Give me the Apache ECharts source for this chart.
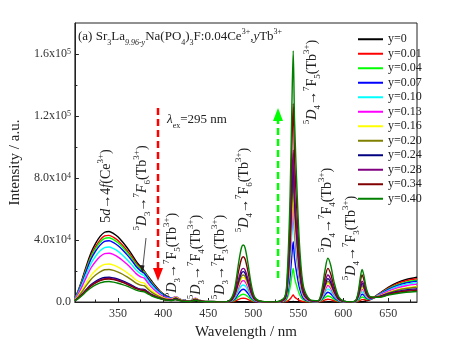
<!DOCTYPE html>
<html>
<head>
<meta charset="utf-8">
<script src="https://cdn.jsdelivr.net/npm/echarts@6/dist/echarts.min.js"></script>
<style>
  html, body { margin: 0; padding: 0; background: #fff; }
  #chart { width: 457px; height: 351px; }
</style>
</head>
<body>
<div id="chart"></div>
<script>
// emission wavelength (nm)
const wavelength = [302,305,310,315,320,325,330,335,340,345,350,355,360,365,370,375,379,383,387,392,397,403,409,414,418,423,430,436,440,447,455,465,474,479,484,487,489,491,494,498,502,510,525,535,538,541,543,544.5,546,549,552,556,563,572,576,580,583,586,590,595,601,609,614,617,619,621,623,626,630,640,650,660,670,682];

// intensity, in units of 1e3 a.u., one array per Tb3+ content
const y0 = [2.7,6.4,14.6,23.7,31.9,37.8,42.3,45.0,45.5,44.1, 41.9,38.7,35.0,30.9,26.4,22.8,20.0,16.8,13.7,10.0, 6.8,4.1,2.5,1.6,1.3,1.0,0.7,0.55,0.45,0.36, 0.27,0.18,0.14,0.12,0.12,0.13,0.13,0.13,0.12,0.1, 0.1,0.1,0.1,0.1,0.1,0.15,0.25,0.3,0.25,0.15, 0.1,0.1,0.1,0.1,0.1,0.1,0.12,0.12,0.1,0.1, 0.1,0.1,0.1,0.12,0.15,0.2,0.4,0.8,1.5,5.5, 9.5,12.5,14.5,16];
const y001 = [2.6,6.0,13.8,22.4,30.1,35.7,40.0,42.6,43.0,41.7, 39.6,36.6,33.1,29.2,24.9,21.7,19.5,16.2,13.0,9.5, 6.5,3.9,2.5,2.3,1.6,1.0,0.77,1.2,0.74,0.37, 0.3,0.17,0.2,0.5,1.7,2.3,2.4,2.3,1.7,0.7, 0.2,0.1,0.1,0.1,0.54,1.9,3.5,4.5,3.2,1.9, 0.9,0.27,0.1,0.1,0.45,1.35,1.8,1.5,0.8,0.22, 0.1,0.1,0.1,0.5,1.1,1.5,1.6,1.3,1.55,5.3, 8.9,11.8,13.7,15];
const y004 = [2.5,5.8,13.3,21.6,29.1,34.4,38.6,41.1,41.5,40.3, 38.2,35.3,32.0,28.2,24.1,21.1,19.3,15.9,12.6,9.1, 6.2,3.7,2.5,2.95,1.9,1.06,0.8,1.8,1.0,0.4, 0.35,0.17,0.27,1.0,3.5,4.75,5.0,4.75,3.5,1.5, 0.4,0.1,0.1,0.4,2.6,9.1,16.9,21.7,15.6,9.1, 4.3,1.3,0.2,0.12,1.0,2.9,3.9,3.3,1.75,0.47, 0.1,0.1,0.16,1.1,2.4,3.2,3.0,1.9,1.7,5.0, 8.4,11.0,12.75,14];
const y007 = [2.4,5.5,12.6,20.5,27.7,32.8,36.7,39.1,39.5,38.3, 36.3,33.6,30.4,26.9,22.9,20.1,18.6,15.2,12.0,8.7, 5.9,3.6,2.5,3.2,2.0,1.05,0.8,2.0,1.1,0.4, 0.35,0.16,0.37,1.6,5.7,7.8,8.2,7.8,5.7,2.5, 0.66,0.1,0.1,0.8,4.7,16.3,30.3,38.9,28.0,16.3, 7.8,2.3,0.4,0.2,1.6,4.7,6.3,5.4,2.8,0.76, 0.13,0.1,0.25,1.75,3.75,5.0,4.4,2.55,1.9,4.9, 8.1,10.6,12.3,13.5];
const y010 = [2.1,5.0,11.4,18.5,24.9,29.5,33.0,35.1,35.5,34.4, 32.7,30.2,27.3,24.1,20.6,18.2,17.0,13.8,10.8,7.8, 5.3,3.2,2.3,3.4,2.1,1.0,0.76,2.3,1.2,0.37, 0.35,0.14,0.44,2.2,7.7,10.45,11,10.45,7.7,3.3, 0.9,0.11,0.1,1.1,6.8,23.9,44.5,57,41,23.9, 11.4,3.4,0.6,0.26,2.1,6.4,8.5,7.2,3.8,1.0, 0.17,0.1,0.33,2.3,4.95,6.6,5.7,3.1,2.1,4.6, 7.55,9.9,11.4,12.5];
const y013 = [1.9,4.4,10.1,16.4,22.1,26.1,29.3,31.2,31.5,30.6, 29.0,26.8,24.3,21.4,18.3,16.2,15.4,12.4,9.6,6.9, 4.7,2.8,2.1,3.5,2.1,0.93,0.7,2.4,1.24,0.35, 0.35,0.13,0.5,2.8,9.7,13.1,13.8,13.1,9.7,4.1, 1.1,0.14,0.1,1.3,7.7,26.9,49.9,64,46.1,26.9, 12.8,3.8,0.64,0.32,2.65,7.95,10.6,9.0,4.8,1.27, 0.2,0.1,0.42,2.9,6.2,8.3,7.0,3.7,2.2,4.3, 7.0,9.1,10.5,11.5];
const y016 = [1.5,3.4,7.8,12.7,17.2,20.3,22.8,24.3,24.5,23.8, 22.5,20.8,18.9,16.7,14.2,12.7,12.2,9.8,7.5,5.4, 3.7,2.2,1.7,3.1,1.8,0.76,0.58,2.2,1.1,0.3, 0.3,0.1,0.55,3.2,11.1,15.1,15.9,15.1,11.1,4.8, 1.3,0.16,0.1,1.4,8.6,30.2,56.2,72,51.8,30.2, 14.4,4.3,0.7,0.37,3.05,9.15,12.2,10.4,5.5,1.46, 0.24,0.1,0.48,3.3,7.1,9.5,8.0,4.1,2.35,3.9, 6.2,8.0,9.15,10];
const y020 = [1.3,2.9,6.7,10.9,14.7,17.4,19.5,20.8,21.0,20.4, 19.3,17.9,16.2,14.3,12.2,10.9,10.5,8.4,6.4,4.6, 3.15,1.9,1.45,2.7,1.6,0.66,0.5,1.95,0.98,0.26, 0.25,0.08,0.58,3.5,12.2,16.5,17.4,16.5,12.2,5.2, 1.4,0.17,0.1,1.6,9.6,33.6,62.4,80,57.6,33.6, 16,4.8,0.8,0.4,3.35,10.05,13.4,11.4,6.0,1.6, 0.27,0.1,0.53,3.7,7.9,10.5,8.8,4.5,2.45,3.75, 5.9,7.6,8.7,9.5];
const y024 = [1.0,2.2,5.1,8.3,11.2,13.3,14.9,15.8,16.0,15.5, 14.7,13.6,12.3,10.9,9.3,8.3,8.1,6.5,4.9,3.5, 2.4,1.45,1.14,2.26,1.3,0.52,0.4,1.64,0.81,0.2, 0.2,0.06,0.64,3.9,13.7,18.6,19.6,18.6,13.7,5.9, 1.6,0.2,0.1,1.8,10.8,37.8,70.2,90,64.8,37.8, 18,5.4,0.9,0.45,3.8,11.3,15.1,12.8,6.8,1.8, 0.3,0.1,0.6,4.2,9.0,12,10.0,5.0,2.6,3.46, 5.35,6.8,7.8,8.5];
const y028 = [0.92,2.1,4.9,8.0,10.7,12.7,14.2,15.1,15.3,14.8, 14.1,13.0,11.8,10.4,8.9,7.95,7.7,6.2,4.7,3.4, 2.3,1.4,1.07,2.04,1.18,0.49,0.38,1.46,0.72,0.18, 0.18,0.06,0.7,4.3,15.2,20.6,21.7,20.6,15.2,6.5, 1.7,0.22,0.1,2.0,11.8,41.2,76.4,98,70.6,41.2, 19.6,5.9,1.0,0.52,4.35,13.05,17.4,14.8,7.8,2.1, 0.35,0.1,0.68,4.7,10.1,13.5,11.2,5.5,2.75,3.3, 5.1,6.4,7.35,8];
const y034 = [0.89,2.1,4.7,7.7,10.4,12.3,13.8,14.7,14.8,14.4, 13.6,12.6,11.4,10.1,8.6,7.7,7.4,5.9,4.5,3.3, 2.2,1.3,1.0,1.8,1.06,0.46,0.35,1.28,0.65,0.18, 0.16,0.06,0.92,5.8,20.4,27.7,29.2,27.7,20.4,8.8, 2.3,0.3,0.1,2.6,15.4,53.8,99.8,128,92.2,53.8, 25.6,7.7,1.3,0.65,5.4,16.3,21.7,18.4,9.8,2.6, 0.43,0.1,0.87,6.1,13.05,17.4,14.3,6.9,3.1,3.2, 4.8,6.1,6.9,7.5];
const y040 = [0.8,1.85,4.2,6.9,9.2,11.0,12.3,13.1,13.2,12.8, 12.1,11.2,10.2,9.0,7.7,6.84,6.6,5.3,4.0,2.9, 2.0,1.2,0.9,1.56,0.92,0.4,0.3,1.1,0.55,0.16, 0.14,0.05,1.14,7.4,25.8,35.0,36.8,35.0,25.8,11.0, 2.9,0.37,0.1,3.2,19.4,68,126.4,162,116.6,68, 32.4,9.7,1.6,0.85,7.05,21.2,28.2,24.0,12.7,3.4, 0.56,0.1,1.05,7.35,15.75,21,17.2,8.15,3.5,3.0, 4.4,5.5,6.3,6.8];

const spectra = [y0, y001, y004, y007, y010, y013, y016, y020, y024, y028, y034, y040];
const legendLabels = ['y=0', 'y=0.01', 'y=0.04', 'y=0.07', 'y=0.10', 'y=0.13', 'y=0.16', 'y=0.20', 'y=0.24', 'y=0.28', 'y=0.34', 'y=0.40'];
const lineColors = ['#000000', '#ff0000', '#00ff00', '#0000ff', '#00ffff', '#ff00ff', '#ffff00', '#808000', '#000080', '#800080', '#800000', '#008000'];

const xTicks = [350, 400, 450, 500, 550, 600, 650];
const xMinorTicks = [325, 375, 425, 475, 525, 575, 625, 675];
const yTicks = [0, 40000, 80000, 120000, 160000];
const yMinorTicks = [20000, 60000, 100000, 140000];
const yTickLabels = ['0.0', '4.0x10{sup|4}', '8.0x10{sup|4}', '1.2x10{sup|5}', '1.6x10{sup|5}'];

const FONT = '"Liberation Serif", "Times New Roman", serif';
const INK = '#222';

// rich styles for the chemistry annotations
function richStyles(size) {
  const small = Math.round(size * 0.64);
  return {
    i: {fontSize: size, fontFamily: FONT, fontStyle: 'italic', fill: INK, lineHeight: size + 6, verticalAlign: 'middle'},
    sub: {fontSize: small, fontFamily: FONT, fill: INK, lineHeight: small, verticalAlign: 'bottom'},
    subi: {fontSize: small, fontFamily: FONT, fontStyle: 'italic', fill: INK, lineHeight: small, verticalAlign: 'bottom'},
    sup: {fontSize: small, fontFamily: FONT, fill: INK, lineHeight: small, verticalAlign: 'top'}
  };
}

function label(text, x, y, size, rotate) {
  return {
    type: 'text', x: x, y: y, rotation: rotate ? Math.PI / 2 : 0, z: 100,
    style: {
      text: text, rich: richStyles(size),
      fontSize: size, fontFamily: FONT, fill: INK, lineHeight: size + 6,
      align: rotate ? 'center' : 'left', verticalAlign: 'middle'
    }
  };
}

function dashedArrow(x, yFrom, yTo, color) {
  const dir = yTo > yFrom ? 1 : -1;
  const baseY = yTo - dir * 13;
  return [
    {type: 'line', z: 90, shape: {x1: x, y1: yFrom, x2: x, y2: baseY},
      style: {stroke: color, lineWidth: 2.5, lineDash: [7, 4]}},
    {type: 'polygon', z: 90, shape: {points: [[x, yTo], [x - 5, baseY], [x + 5, baseY]]},
      style: {fill: color}}
  ];
}

const D3 = '{sup|5}{i|D}{sub|3}→{sup|7}';
const D4 = '{sup|5}{i|D}{sub|4}→{sup|7}';
const TB = '(Tb{sup|3+})';

const annotations = [
  label('(a) Sr{sub|3}La{subi|9.96-y}Na(PO{sub|4}){sub|3}F:0.04Ce{sup|3+},{i|y}Tb{sup|3+}', 78, 37, 13, false),
  label('{i|λ}{sub|ex}=295 nm', 167, 120, 13, false),
  label('5{i|d}→4{i|f}(Ce{sup|3+})', 106, 186, 14, true),
  label(D3 + '{i|F}{sub|6}' + TB, 142, 188, 14, true),
  label(D3 + 'F{sub|5}' + TB, 172, 255, 14, true),
  label(D3 + 'F{sub|4}' + TB, 196, 257, 14, true),
  label(D3 + 'F{sub|3}' + TB, 220, 257, 14, true),
  label(D4 + 'F{sub|6}' + TB, 244, 190, 14, true),
  label(D4 + 'F{sub|5}' + TB, 312, 82, 14, true),
  label(D4 + 'F{sub|4}' + TB, 327, 210, 14, true),
  label(D4 + 'F{sub|3}' + TB, 351, 238, 14, true),
  {type: 'line', z: 90, shape: {x1: 146, y1: 238, x2: 142.5, y2: 270}, style: {stroke: INK, lineWidth: 0.8}},
  {type: 'polygon', z: 90, shape: {points: [[142.3, 274], [140, 265], [144.5, 265.5]]}, style: {fill: INK}}
].concat(dashedArrow(158, 108, 281, '#ff0000'), dashedArrow(278, 278, 108, '#00ff00'));

const chart = echarts.init(document.getElementById('chart'));
chart.setOption({
  animation: false,
  backgroundColor: '#fff',
  grid: {left: 72, right: 40, top: 23, bottom: 49, show: true, borderColor: '#222', borderWidth: 1, backgroundColor: 'transparent'},
  legend: {
    orient: 'vertical', left: 353, top: 27, itemGap: 0,
    itemWidth: 25, itemHeight: 2, icon: 'rect',
    textStyle: {fontFamily: FONT, fontSize: 12, color: INK, lineHeight: 14.5},
    data: legendLabels
  },
  xAxis: [{
    type: 'value', min: 302, max: 682,
    name: 'Wavelength / nm', nameLocation: 'middle', nameGap: 20,
    nameTextStyle: {fontFamily: FONT, fontSize: 15, color: INK},
    axisLine: {show: true, onZero: false, lineStyle: {color: INK, width: 1}},
    axisTick: {show: true, inside: true, length: 4, customValues: xTicks, lineStyle: {color: INK}},
    axisLabel: {customValues: xTicks, fontFamily: FONT, fontSize: 12, color: '#333', margin: 6},
    splitLine: {show: false}
  }, {
    type: 'value', min: 302, max: 682, position: 'bottom',
    axisLine: {show: false},
    axisTick: {show: true, inside: true, length: 2.5, customValues: xMinorTicks, lineStyle: {color: INK}},
    axisLabel: {show: false},
    splitLine: {show: false}
  }],
  yAxis: [{
    type: 'value', min: 0, max: 180000,
    name: 'Intensity / a.u.', nameLocation: 'middle', nameGap: 41,
    nameTextStyle: {fontFamily: FONT, fontSize: 15, color: INK},
    axisLine: {show: true, onZero: false, lineStyle: {color: INK, width: 1}},
    axisTick: {show: true, inside: true, length: 4, customValues: yTicks, lineStyle: {color: INK}},
    axisLabel: {
      customValues: yTicks, fontFamily: FONT, fontSize: 12, color: '#333', margin: 4,
      formatter: function (v) { return yTickLabels[yTicks.indexOf(v)]; },
      rich: {sup: {fontFamily: FONT, fontSize: 8, color: '#333', verticalAlign: 'top', lineHeight: 8}}
    },
    splitLine: {show: false}
  }, {
    type: 'value', min: 0, max: 180000, position: 'left',
    axisLine: {show: false},
    axisTick: {show: true, inside: true, length: 2.5, customValues: yMinorTicks, lineStyle: {color: INK}},
    axisLabel: {show: false},
    splitLine: {show: false}
  }],
  series: spectra.map(function (arr, k) {
    return {
      name: legendLabels[k],
      type: 'line',
      xAxisIndex: 0, yAxisIndex: 0,
      data: wavelength.map(function (w, i) { return [w, arr[i] * 1000]; }),
      showSymbol: false, symbol: 'none',
      smooth: 0.3,
      color: lineColors[k],
      lineStyle: {width: 1.4, color: lineColors[k]}
    };
  }),
  graphic: annotations
});
</script>
</body>
</html>
